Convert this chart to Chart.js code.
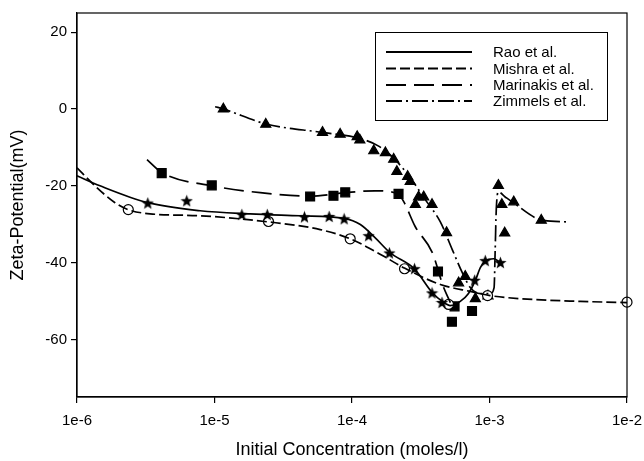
<!DOCTYPE html>
<html>
<head>
<meta charset="utf-8">
<script src="https://cdn.jsdelivr.net/npm/chart.js@4.4.1/dist/chart.umd.min.js"></script>
<style>
  html, body { margin: 0; padding: 0; background: #fff; }
</style>
</head>
<body>
<canvas id="zetaChart" width="644" height="461"></canvas>
<script>
// axis ticks
const xTicks = [1e-6, 1e-5, 1e-4, 1e-3, 1e-2];
const xTickLabels = ['1e-6', '1e-5', '1e-4', '1e-3', '1e-2'];
const yTicks = [-60, -40, -20, 0, 20];

const seriesNames = ['Rao et al.', 'Mishra et al.', 'Marinakis et al.', 'Zimmels et al.'];

// Rao et al. - measured points (stars) and fitted curve
const raoX = [3.27e-6, 6.28e-6, 1.58e-5, 2.42e-5, 4.51e-5, 6.82e-5, 8.77e-5, 1.32e-4, 1.87e-4, 2.85e-4, 3.82e-4, 4.51e-4, 7.80e-4, 9.32e-4, 1.20e-3];
const raoY = [-24.5, -23.9, -27.5, -27.5, -28.1, -28.0, -28.6, -33.0, -37.5, -41.6, -47.9, -50.4, -44.6, -39.5, -40.0];
const raoFitX = [1e-6, 1.47e-6, 3.28e-6, 7.86e-6, 1.82e-5, 4.20e-5, 8.77e-5, 1.15e-4, 1.47e-4, 1.89e-4, 2.84e-4, 3.83e-4, 4.53e-4, 5.19e-4, 6.13e-4, 7.01e-4, 7.88e-4, 8.58e-4, 9.37e-4, 1.07e-3, 1.20e-3];
const raoFitY = [-17.4, -20.0, -24.4, -26.5, -27.3, -27.8, -28.5, -30.1, -33.5, -37.4, -41.6, -47.8, -50.1, -51.2, -50.1, -48.1, -44.7, -41.3, -39.5, -39.0, -40.0];

// Mishra et al. - open circles
const mishraX = [2.36e-6, 2.47e-5, 9.7e-5, 2.41e-4, 5.04e-4, 9.68e-4, 1e-2];
const mishraY = [-26.2, -29.3, -33.8, -41.6, -50.9, -48.6, -50.3];
const mishraFitX = [1e-6, 1.35e-6, 1.89e-6, 2.35e-6, 3.40e-6, 7.86e-6, 2.46e-5, 5.87e-5, 9.7e-5, 1.6e-4, 2.40e-4, 4.39e-4, 7.25e-4, 1.01e-3, 1.68e-3, 4.58e-3, 1e-2];
const mishraFitY = [-15.3, -20.0, -24.4, -26.2, -27.3, -27.8, -29.4, -31.4, -33.8, -37.8, -41.4, -45.7, -47.5, -48.6, -49.4, -50.1, -50.4];

// Marinakis et al. - filled squares
const marinakisX = [4.13e-6, 9.55e-6, 4.96e-5, 7.33e-5, 8.93e-5, 2.18e-4, 4.22e-4, 5.57e-4, 5.33e-4, 7.46e-4];
const marinakisY = [-16.7, -19.9, -22.8, -22.6, -21.7, -22.1, -42.3, -51.4, -55.4, -52.6];
const marinakisFitX = [3.23e-6, 4.16e-6, 9.6e-6, 2.15e-5, 4.96e-5, 8.9e-5, 1.47e-4, 2.17e-4, 2.40e-4, 2.88e-4, 3.84e-4, 4.61e-4, 5.19e-4];
const marinakisFitY = [-13.2, -16.6, -20.0, -21.8, -22.7, -21.8, -21.3, -22.1, -24.4, -30.6, -37.4, -46.2, -50.4];

// Zimmels et al. - filled triangles
const zimmelsX = [1.16e-5, 2.36e-5, 6.10e-5, 8.20e-5, 1.09e-4, 1.14e-4, 1.44e-4, 1.75e-4, 2.01e-4, 2.12e-4, 2.54e-4, 2.65e-4, 2.89e-4, 3.05e-4, 3.32e-4, 3.82e-4, 4.87e-4, 5.96e-4, 6.66e-4, 7.89e-4, 9.75e-4, 1.16e-3, 1.23e-3, 1.29e-3, 1.50e-3, 2.38e-3];
const zimmelsY = [0.0, -4.0, -6.1, -6.6, -7.2, -8.1, -10.9, -11.4, -13.1, -16.3, -17.6, -18.9, -24.9, -22.9, -22.9, -24.9, -32.2, -45.3, -43.6, -49.4, -48.7, -19.9, -24.9, -32.3, -24.2, -29.0];
const zimmelsFitX = [1.01e-5, 1.16e-5, 2.37e-5, 6.07e-5, 1.09e-4, 1.55e-4, 2.06e-4, 2.65e-4, 3.41e-4, 4.39e-4, 5.36e-4, 6.34e-4, 7.25e-4, 8.57e-4, 1.01e-3, 1.08e-3, 1.10e-3, 1.12e-3, 1.16e-3, 1.30e-3, 1.49e-3, 2.34e-3, 3.68e-3];
const zimmelsFitY = [0.6, 0.0, -3.9, -6.1, -7.5, -9.6, -13.2, -17.9, -23.6, -29.4, -36.6, -42.6, -46.5, -48.1, -48.1, -46.5, -36.6, -26.2, -21.6, -22.9, -24.4, -28.8, -29.4];

const dashes = [[], [10, 4], [20, 8], [16, 4, 2, 4]];
const fontFamily = '"Liberation Sans", Arial, sans-serif';

function pts(xs, ys) {
  return xs.map((x, i) => ({ x: x, y: ys[i] }));
}

// filled five-point star used as a point style
function makeStar(size) {
  const c = document.createElement('canvas');
  c.width = size;
  c.height = size;
  const g = c.getContext('2d');
  const cx = size / 2, cy = size / 2 + 0.5;
  const outer = size / 2, inner = outer * 0.42;
  g.beginPath();
  for (let i = 0; i < 10; i++) {
    const r = i % 2 === 0 ? outer : inner;
    const a = -Math.PI / 2 + i * Math.PI / 5;
    g.lineTo(cx + r * Math.cos(a), cy + r * Math.sin(a));
  }
  g.closePath();
  g.fillStyle = '#000';
  g.fill();
  return c;
}
const starImg = makeStar(13);

function curve(label, data, dash) {
  return {
    label: label,
    data: data,
    showLine: true,
    borderColor: '#000',
    borderWidth: 1.7,
    borderDash: dash,
    pointRadius: 0,
    pointHoverRadius: 0,
    cubicInterpolationMode: 'monotone',
    fill: false
  };
}

function marks(data, style, radius, fillColor) {
  return {
    data: data,
    showLine: false,
    pointStyle: style,
    pointRadius: radius,
    pointHoverRadius: radius,
    backgroundColor: fillColor,
    borderColor: '#000',
    borderWidth: 1.2,
    clip: false
  };
}

// frame round the plot area plus the boxed legend inside it
const framePlugin = {
  id: 'frame',
  afterDraw(chart) {
    const ctx = chart.ctx;
    const a = chart.chartArea;
    ctx.save();
    ctx.strokeStyle = '#000';
    ctx.lineWidth = 1.2;
    ctx.setLineDash([]);
    ctx.strokeRect(a.left, a.top, a.right - a.left, a.bottom - a.top);

    ctx.lineWidth = 1;
    ctx.strokeRect(375.5, 32.5, 232, 88);
    ctx.font = '15px ' + fontFamily;
    ctx.fillStyle = '#000';
    ctx.textBaseline = 'middle';
    const rows = [52, 68.5, 85, 101];
    seriesNames.forEach((name, i) => {
      ctx.beginPath();
      ctx.setLineDash(dashes[i]);
      ctx.lineWidth = 1.8;
      ctx.moveTo(386, rows[i]);
      ctx.lineTo(472, rows[i]);
      ctx.stroke();
      ctx.setLineDash([]);
      ctx.fillText(name, 493, rows[i] + 1);
    });
    ctx.restore();
  }
};

new Chart(document.getElementById('zetaChart'), {
  type: 'scatter',
  data: {
    datasets: [
      curve(seriesNames[0], pts(raoFitX, raoFitY), dashes[0]),
      curve(seriesNames[1], pts(mishraFitX, mishraFitY), dashes[1]),
      curve(seriesNames[2], pts(marinakisFitX, marinakisFitY), dashes[2]),
      curve(seriesNames[3], pts(zimmelsFitX, zimmelsFitY), dashes[3]),
      marks(pts(raoX, raoY), starImg, 6, '#000'),
      marks(pts(mishraX, mishraY), 'circle', 5, '#fff'),
      marks(pts(marinakisX, marinakisY), 'rect', 6.3, '#000'),
      marks(pts(zimmelsX, zimmelsY), 'triangle', 5.8, '#000')
    ]
  },
  options: {
    responsive: false,
    animation: false,
    layout: { padding: { left: 0, top: 13, right: 17, bottom: 0 } },
    plugins: {
      legend: { display: false },
      tooltip: { enabled: false }
    },
    scales: {
      x: {
        type: 'logarithmic',
        min: 1e-6,
        max: 1e-2,
        afterBuildTicks: (scale) => { scale.ticks = xTicks.map(v => ({ value: v })); },
        afterFit: (scale) => {
          scale.height = 64;
          scale.paddingLeft = 0;
          scale.paddingRight = 0;
        },
        ticks: {
          color: '#000',
          font: { size: 15, family: fontFamily },
          padding: 9,
          maxRotation: 0,
          callback: (v) => xTickLabels[xTicks.findIndex(t => Math.abs(Math.log10(t) - Math.log10(v)) < 1e-6)]
        },
        grid: { drawOnChartArea: false, drawTicks: true, tickLength: 6, color: '#000', lineWidth: 1.2 },
        border: { display: true, color: '#000', width: 1.2 },
        title: {
          display: true,
          text: 'Initial Concentration (moles/l)',
          color: '#000',
          font: { size: 18, family: fontFamily },
          padding: { top: 0, bottom: 0 }
        }
      },
      y: {
        type: 'linear',
        min: -75,
        max: 25,
        afterBuildTicks: (scale) => { scale.ticks = yTicks.map(v => ({ value: v })); },
        afterFit: (scale) => { scale.width = 77; },
        ticks: {
          color: '#000',
          font: { size: 15, family: fontFamily },
          padding: 4
        },
        grid: { drawOnChartArea: false, drawTicks: true, tickLength: 6, color: '#000', lineWidth: 1.2 },
        border: { display: true, color: '#000', width: 1.2 },
        title: {
          display: true,
          text: 'Zeta-Potential(mV)',
          color: '#000',
          font: { size: 18, family: fontFamily },
          padding: { top: 7, bottom: 0 }
        }
      }
    }
  },
  plugins: [framePlugin]
});
</script>
</body>
</html>
